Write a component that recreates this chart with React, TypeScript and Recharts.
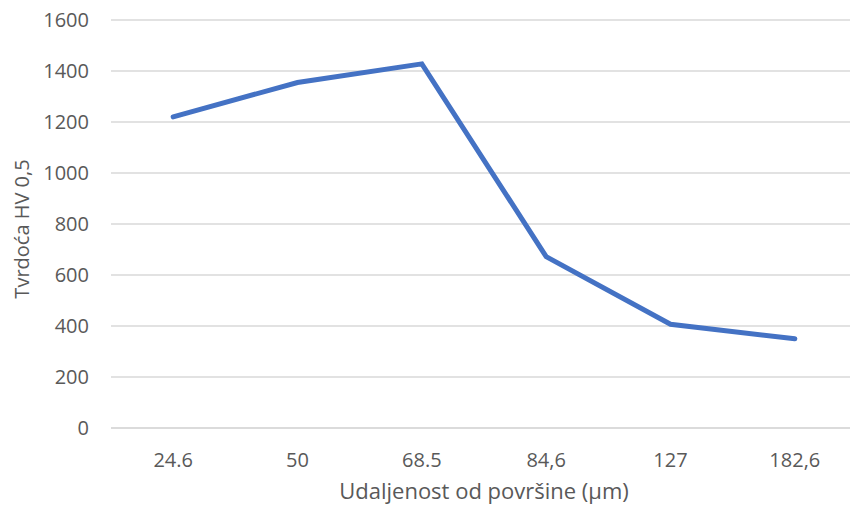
import React from "react";
import { LineChart, Line, XAxis, YAxis, CartesianGrid, Label } from "recharts";

const categories = ["24.6", "50", "68.5", "84,6", "127", "182,6"];
const hardness = [1220, 1355, 1428, 672, 407, 350];
const yTicks = [0, 200, 400, 600, 800, 1000, 1200, 1400, 1600];

const data = categories.map((c, i) => ({ name: c, value: hardness[i] }));

const FONT = "'Open Sans', 'Noto Sans', sans-serif";
const TEXT = "#595959";

const YTitle = (props: any) => {
  const vb = props.viewBox || {};
  const cx = vb.x + 21;
  const cy = vb.y + vb.height / 2 + 5;
  return (
    <text
      x={cx}
      y={cy}
      transform={`rotate(-90, ${cx}, ${cy})`}
      textAnchor="middle"
      dominantBaseline="central"
      fill={TEXT}
      fontFamily={FONT}
      fontSize={20}
    >
      Tvrdoća HV 0,5
    </text>
  );
};

export default function App() {
  return (
    <div style={{ position: "absolute", left: 0, top: 0, width: 850, height: 506, overflow: "hidden", background: "#fff" }}>
      <LineChart width={870} height={506} data={data} margin={{ top: 20, right: 13, bottom: 0, left: 0 }}>
        <CartesianGrid vertical={false} stroke="#d9d9d9" strokeWidth={1.3} />
        <XAxis
          dataKey="name"
          scale="band"
          height={78}
          tickLine={false}
          tickSize={0}
          tickMargin={25}
          axisLine={{ stroke: "#d9d9d9", strokeWidth: 1.3 }}
          tick={{ fill: TEXT, fontFamily: FONT, fontSize: 20 }}
        >
          <Label
            value="Udaljenost od površine (µm)"
            position="insideBottom"
            offset={7}
            fill={TEXT}
            fontFamily={FONT}
            fontSize={22}
          />
        </XAxis>
        <YAxis
          width={111}
          domain={[0, 1600]}
          ticks={yTicks}
          interval={0}
          tickLine={false}
          axisLine={false}
          tickSize={0}
          tickMargin={22}
          tick={{ fill: TEXT, fontFamily: FONT, fontSize: 20 }}
        >
          <Label content={<YTitle />} />
        </YAxis>
        <Line
          type="linear"
          dataKey="value"
          stroke="#4472c4"
          strokeWidth={5}
          strokeLinecap="round"
          dot={false}
          activeDot={false}
          isAnimationActive={false}
        />
      </LineChart>
    </div>
  );
}
